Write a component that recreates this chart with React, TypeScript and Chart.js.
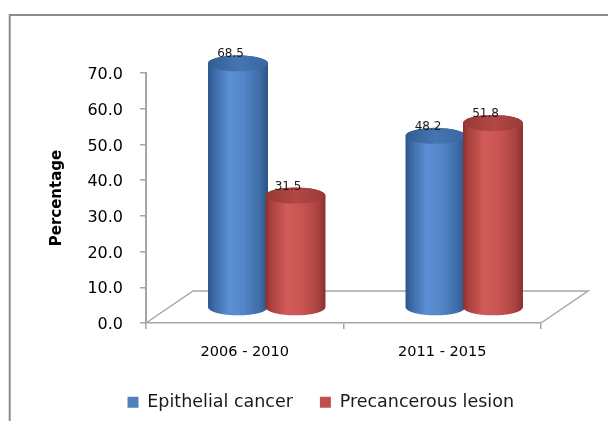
import React, { useEffect, useRef } from 'react';
import { Chart, registerables } from 'chart.js';

Chart.register(...registerables);

// ---- data ----
const categories = ['2006 - 2010', '2011 - 2015'];
const seriesNames = ['Epithelial cancer', 'Precancerous lesion'];
const epithelialCancer = [68.5, 48.2];
const precancerousLesion = [31.5, 51.8];
const yAxisMin = 0;
const yAxisMax = 70;
const yAxisStep = 10;
const yAxisTitle = 'Percentage';

// ---- style ----
const FONT = '"DejaVu Sans", "Liberation Sans", sans-serif';
const AXIS_GRAY = '#a6a6a6';
const FRAME_GRAY = '#8c8c8c';

const palettes = [
  {
    base: '#4F81BD',
    body: [
      [0, '#2b5588'],
      [0.08, '#3967a3'],
      [0.35, '#5b8fd3'],
      [0.6, '#5386c8'],
      [0.87, '#3d6ba6'],
      [1, '#2c5585'],
    ],
    cap: [
      [0, '#335c92'],
      [0.5, '#4675b2'],
      [1, '#3a66a0'],
    ],
  },
  {
    base: '#C0504D',
    body: [
      [0, '#87302e'],
      [0.08, '#a63f3c'],
      [0.35, '#d15b58'],
      [0.6, '#c95552'],
      [0.87, '#aa4340'],
      [1, '#88312f'],
    ],
    cap: [
      [0, '#973735'],
      [0.5, '#b14845'],
      [1, '#9c3a38'],
    ],
  },
];

const CYL = { dx: 22, dy: -15, ry: 8, extraWidth: 2.5, labelDx: -7.5 };
const FLOOR = { dx: 47, dy: -32 };

function addStops(g: CanvasGradient, stops: any[]) {
  stops.forEach(([o, c]) => g.addColorStop(o, c));
}

function drawCylinder(ctx: CanvasRenderingContext2D, cx: number, top: number, bottom: number, rx: number, ry: number, pal: any) {
  const g = ctx.createLinearGradient(cx - rx, 0, cx + rx, 0);
  addStops(g, pal.body);
  ctx.beginPath();
  ctx.moveTo(cx - rx, top);
  ctx.lineTo(cx - rx, bottom);
  ctx.ellipse(cx, bottom, rx, ry, 0, Math.PI, 0, true);
  ctx.lineTo(cx + rx, top);
  ctx.ellipse(cx, top, rx, ry, 0, 0, Math.PI, true);
  ctx.closePath();
  ctx.fillStyle = g;
  ctx.fill();

  const gc = ctx.createLinearGradient(cx - rx, 0, cx + rx, 0);
  addStops(gc, pal.cap);
  ctx.beginPath();
  ctx.ellipse(cx, top, rx, ry, 0, 0, Math.PI * 2);
  ctx.fillStyle = gc;
  ctx.fill();
}

const cylinderPlugin = {
  id: 'cylinders3d',
  beforeDraw(chart: any) {
    const ctx = chart.ctx;
    ctx.save();
    ctx.strokeStyle = FRAME_GRAY;
    ctx.lineWidth = 2;
    ctx.beginPath();
    ctx.moveTo(9.7, chart.height + 2);
    ctx.lineTo(9.7, 15);
    ctx.lineTo(chart.width + 2, 15);
    ctx.stroke();
    ctx.restore();
  },
  beforeDatasetsDraw(chart: any) {
    const ctx = chart.ctx;
    const area = chart.chartArea;
    ctx.save();
    // floor
    ctx.strokeStyle = AXIS_GRAY;
    ctx.lineWidth = 1.5;
    ctx.beginPath();
    ctx.moveTo(area.left, area.bottom);
    ctx.lineTo(area.left + FLOOR.dx, area.bottom + FLOOR.dy);
    ctx.lineTo(area.right + FLOOR.dx, area.bottom + FLOOR.dy);
    ctx.lineTo(area.right, area.bottom);
    ctx.stroke();

    const labels: any[] = [];
    const nCats = chart.data.labels.length;
    for (let j = 0; j < nCats; j++) {
      chart.data.datasets.forEach((ds: any, i: number) => {
        const meta = chart.getDatasetMeta(i);
        const el = meta.data[j];
        if (!el) return;
        const { x, y, base, width } = el.getProps(['x', 'y', 'base', 'width'], true);
        const cx = x + CYL.dx;
        const top = y + CYL.dy;
        const bottom = base + CYL.dy;
        const rx = (width + CYL.extraWidth) / 2;
        drawCylinder(ctx, cx, top, bottom, rx, CYL.ry, palettes[i]);
        labels.push({ x: cx + CYL.labelDx, y: top - CYL.ry + 2, text: Number(ds.data[j]).toFixed(1) });
      });
    }
    ctx.fillStyle = '#1a1a1a';
    ctx.font = `12px ${FONT}`;
    ctx.textAlign = 'center';
    ctx.textBaseline = 'alphabetic';
    labels.forEach((l) => ctx.fillText(l.text, l.x, l.y));
    ctx.restore();
    return false;
  },
};

export default function App() {
  const ref = useRef<HTMLCanvasElement | null>(null);
  useEffect(() => {
    if (!ref.current) return;
    const chart = new Chart(ref.current, {
      type: 'bar',
      data: {
        labels: categories,
        datasets: [
          { label: seriesNames[0], data: epithelialCancer, backgroundColor: palettes[0].base, borderWidth: 0, categoryPercentage: 0.582, barPercentage: 1 },
          { label: seriesNames[1], data: precancerousLesion, backgroundColor: palettes[1].base, borderWidth: 0, categoryPercentage: 0.582, barPercentage: 1 },
        ],
      },
      options: {
        responsive: false,
        animation: false,
        events: [],
        layout: { padding: { left: 0, right: 67, top: 73, bottom: 0 } },
        plugins: {
          legend: {
            position: 'bottom',
            align: 'end',
            labels: {
              font: { family: FONT, size: 17.5 },
              color: '#1a1a1a',
              boxWidth: 11,
              boxHeight: 11,
              padding: 27,
            },
          },
          tooltip: { enabled: false },
        },
        scales: {
          x: {
            afterFit: (s: any) => { s.height = 43.5; },
            border: { display: true, color: AXIS_GRAY, width: 1.5 },
            grid: { display: true, drawOnChartArea: false, drawTicks: true, tickLength: 6, color: AXIS_GRAY, lineWidth: 1.5 },
            ticks: { font: { family: FONT, size: 14.5 }, color: '#000', padding: 15, maxRotation: 0 },
          },
          y: {
            min: yAxisMin,
            max: yAxisMax,
            afterFit: (s: any) => { s.width = 146; },
            border: { display: true, color: AXIS_GRAY, width: 2 },
            grid: { display: true, drawOnChartArea: false, drawTicks: true, tickLength: 6, color: AXIS_GRAY, lineWidth: 1.5 },
            ticks: {
              stepSize: yAxisStep,
              font: { family: FONT, size: 16 },
              color: '#000',
              padding: 17,
              labelOffset: 2,
              callback: (v: any) => Number(v).toFixed(1),
            },
            title: {
              display: true,
              text: yAxisTitle,
              font: { family: FONT, size: 15, weight: 'bold' },
              color: '#000',
              padding: { top: 48.5, bottom: 0 },
            },
          },
        },
      },
      plugins: [cylinderPlugin],
    } as any);
    return () => chart.destroy();
  }, []);
  return (
    <div style={{ position: 'absolute', left: 0, top: 0, width: 608, height: 421 }}>
      <canvas ref={ref} width={608} height={421} style={{ display: 'block' }} />
    </div>
  );
}
